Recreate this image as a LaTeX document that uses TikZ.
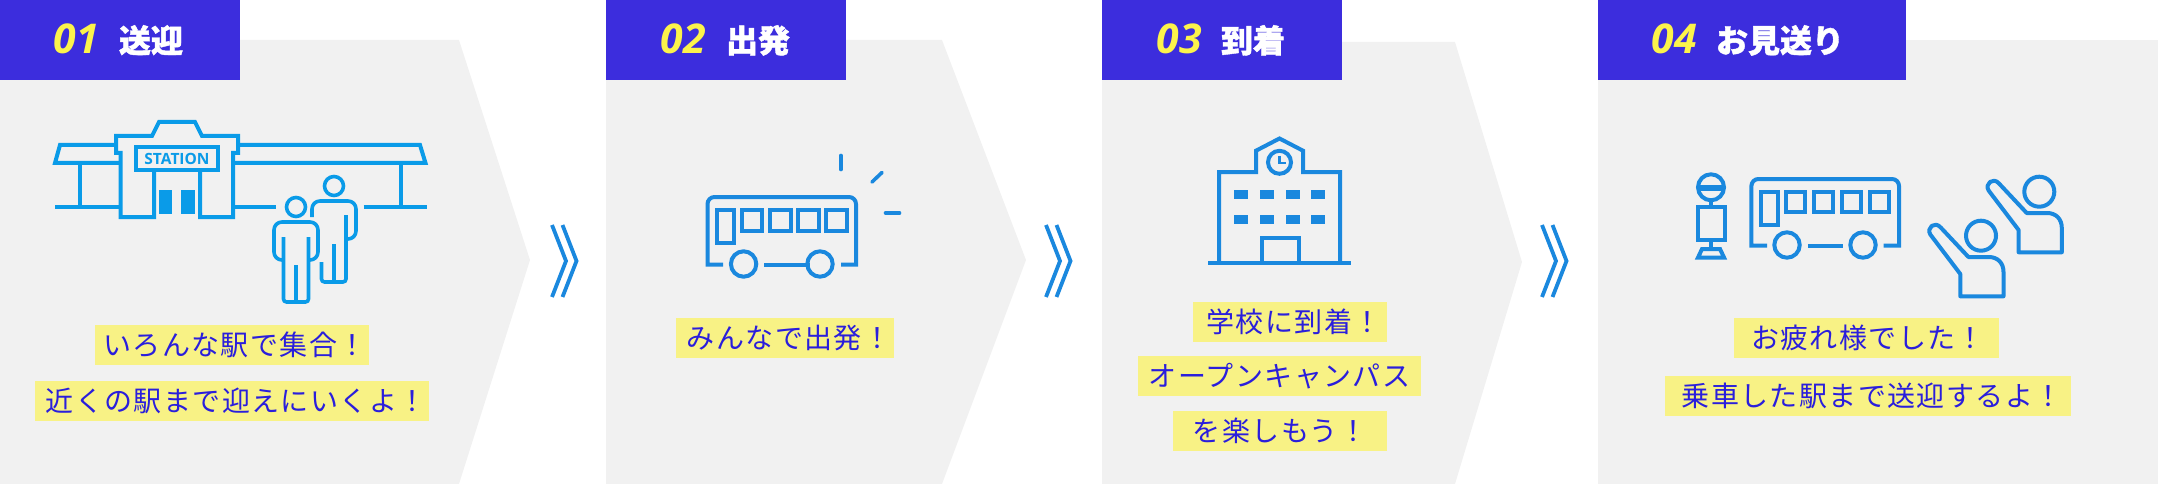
\documentclass[tikz,border=0pt]{standalone}
\usepackage{fontspec}
\setmainfont{Open Sans}
\newfontfamily\jpfont[LetterSpace=5]{Noto Sans CJK JP}
\newfontfamily\jpbold[BoldFeatures={FakeBold=1.2}]{Noto Sans CJK JP}
\definecolor{panelgray}{HTML}{F1F1F1}
\definecolor{headblue}{HTML}{3C2DDD}
\definecolor{numyellow}{HTML}{FCF34B}
\definecolor{labelyellow}{HTML}{F8F285}
\definecolor{labeltext}{HTML}{2A1EDC}
\definecolor{iconblue}{HTML}{1A88DE}
\definecolor{stationblue}{HTML}{0A9BE8}
\tikzset{
  panel/.style={fill=panelgray},
  headbox/.style={fill=headblue},
  numtext/.style={anchor=base,inner sep=0,text=numyellow,font=\fontsize{41}{41}\selectfont\bfseries\itshape},
  headtext/.style={anchor=base,inner sep=0,text=white,font=\fontsize{32}{32}\selectfont\jpbold\bfseries},
  label/.style={fill=labelyellow,inner sep=0,text=labeltext,minimum height=40pt,font=\fontsize{28}{28}\selectfont\jpfont},
  chev/.style={draw=iconblue,line width=3.8pt,miter limit=10},
  icon/.style={draw=iconblue,line width=4pt,miter limit=10},
  sicon/.style={draw=stationblue,line width=4pt,miter limit=10},
  pers/.style={draw=stationblue,line width=3.6pt},
  ray/.style={draw=iconblue,line width=3.6pt,line cap=round},
}
\newcommand{\dblchev}[1]{%
  \draw[chev] (552+#1,225) -- (566+#1,261) -- (552+#1,297);
  \draw[chev] (562.5+#1,225) -- (576.5+#1,261) -- (562.5+#1,297);
}
\newcommand{\waver}[2]{%
  \begin{scope}[shift={(#1,#2)}]
    \draw[icon] (2039.3,191.7) circle (15);
    \draw[icon,line join=round] (2018.6,252.3) -- (2018.6,230) -- (1988.6,190.5)
      .. controls (1984.5,184) and (1993,176.5) .. (1999,183.5)
      -- (2026.7,213) -- (2047,213) .. controls (2056,213) and (2061.8,219) .. (2061.8,228) -- (2061.8,252.3) -- cycle;
  \end{scope}
}
\begin{document}
\begin{tikzpicture}[x=1pt,y=-1pt]
\useasboundingbox (0,0) rectangle (2158,484);
% panels
\fill[panel] (0,40) -- (459,40) -- (530,260) -- (459,484) -- (0,484) -- cycle;
\fill[panel] (606,40) -- (942,40) -- (1026,260) -- (942,484) -- (606,484) -- cycle;
\fill[panel] (1102,42) -- (1455,42) -- (1522,262) -- (1455,484) -- (1102,484) -- cycle;
\fill[panel] (1598,40) -- (2158,40) -- (2158,484) -- (1598,484) -- cycle;
% header boxes
\fill[headbox] (0,0) rectangle (240,80);
\fill[headbox] (606,0) rectangle (846,80);
\fill[headbox] (1102,0) rectangle (1342,80);
\fill[headbox] (1598,0) rectangle (1906,80);
% header text
\node[numtext] (n1) at (76.5,54) {01};
\node[headtext] (h1) at (151,52.5) {送迎};
\node[numtext] (n2) at (683.5,54) {02};
\node[headtext] (h2) at (758,52.5) {出発};
\node[numtext] (n3) at (1179.5,54) {03};
\node[headtext] (h3) at (1253,52.5) {到着};
\node[numtext] (n4) at (1674,54) {04};
\node[headtext] (h4) at (1780,52.5) {お見送り};
% chevrons
\dblchev{0}
\dblchev{494}
\dblchev{990}
% labels
\node[label,minimum width=274pt] (l1a) at (232,345) {\hspace*{6pt}いろんな駅で集合！};
\node[label,minimum width=394pt] (l1b) at (232,401) {\hspace*{8pt}近くの駅まで迎えにいくよ！};
\node[label,minimum width=218pt] (l2) at (785,338) {\hspace*{8pt}みんなで出発！};
\node[label,minimum width=194pt] (l3a) at (1290,321.5) {\hspace*{8pt}学校に到着！};
\node[label,minimum width=283pt] (l3b) at (1279.5,376) {オープンキャンパス};
\node[label,minimum width=214pt] (l3c) at (1280,431) {を楽しもう！};
\node[label,minimum width=265pt] (l4a) at (1866.5,337.5) {\hspace*{3pt}お疲れ様でした！};
\node[label,minimum width=406pt] (l4b) at (1868,396) {\hspace*{8pt}乗車した駅まで送迎するよ！};
% station
\draw[sicon] (115,145) -- (60,145) -- (55,163) -- (119,163);
\draw[sicon] (239,145) -- (420,145) -- (425.5,163) -- (234,163);
\draw[sicon] (154,170) -- (154,217) -- (120.5,217) -- (120.5,153) -- (116,153) -- (116,136) -- (152,136) -- (159,122) -- (195,122) -- (202,136) -- (238,136) -- (238,153) -- (233,153) -- (233,217) -- (200,217) -- (200,170);
\draw[sicon] (136,147) rectangle (218,170);
\node[inner sep=0,text=stationblue,font=\fontsize{15.5}{15.5}\selectfont\bfseries] (stn) at (177,158.5) {STATION};
\fill[stationblue] (159,190) rectangle (172,214);
\fill[stationblue] (181,190) rectangle (195,214);
\draw[sicon] (55,207) -- (120,207);
\draw[sicon] (233,207) -- (275.5,207);
\draw[sicon] (363.5,207) -- (427,207);
\draw[sicon] (80,163) -- (80,207);
\draw[sicon] (401,163) -- (401,207);
% persons
\draw[pers] (296,207) circle (9.5);
\draw[pers,rounded corners=8pt] (283.5,260) -- (274,260) -- (274,222) -- (318,222) -- (318,260) -- (308.5,260);
\draw[pers,rounded corners=3pt] (283.5,237) -- (283.5,302) -- (308.5,302) -- (308.5,237);
\draw[pers] (296,265) -- (296,302);
\draw[pers] (334,186) circle (9.5);
\draw[pers,rounded corners=8pt] (312,217) -- (312,201) -- (356,201) -- (356,239) -- (346,239);
\draw[pers,rounded corners=3pt] (321.5,262) -- (321.5,282) -- (346,282) -- (346,215);
\draw[pers] (334,244) -- (334,282);
% bus 2
\draw[icon,rounded corners=0pt] (723,264.5) -- (707.5,264.5) [rounded corners=7pt] -- (707.5,197) -- (856,197) [rounded corners=0pt] -- (856,264.5) -- (841,264.5);
\draw[icon] (717,210) rectangle (734,243);
\draw[icon] (742,210) rectangle (762,231);
\draw[icon] (770,210) rectangle (791,231);
\draw[icon] (798,210) rectangle (818.6,231);
\draw[icon] (826,210) rectangle (847,231);
\draw[icon] (743.6,264) circle (12.7);
\draw[icon] (820,264) circle (12.7);
\draw[icon] (764,264.5) -- (810,264.5);
\draw[ray] (841,155.5) -- (841,169.5);
\draw[ray] (882,172.5) -- (872,182);
\draw[ray] (885.5,213) -- (899.5,213);
% school
\draw[icon,line width=4.4pt] (1208,262.7) -- (1351,262.7);
\draw[icon] (1219,262.7) -- (1219,172) -- (1256,172) -- (1256,150.7) -- (1279.5,138.5) -- (1303,150.7) -- (1303,172) -- (1340,172) -- (1340,262.7);
\draw[icon] (1279.5,162.3) circle (11.5);
\draw[icon,line width=2.8pt] (1279.5,156) -- (1279.5,163) -- (1286,163);
\foreach \wy in {190,214.7}{
  \foreach \wx in {1234,1259.7,1285.7,1311.3}{
    \fill[iconblue] (\wx,\wy) rectangle (\wx+14,\wy+9.3);
  }
}
\draw[icon] (1261.7,262.7) -- (1261.7,237.7) -- (1298.7,237.7) -- (1298.7,262.7);
% bus stop
\draw[icon] (1711,187.3) circle (13);
\draw[icon,line width=5.5pt] (1698,188) -- (1724,188);
\draw[icon] (1711,200) -- (1711,207);
\draw[icon] (1698,207) rectangle (1724.5,240);
\draw[icon] (1711,240) -- (1711,249);
\draw[icon] (1702,249) -- (1720,249) -- (1724,257.5) -- (1698,257.5) -- cycle;
% bus 4
\draw[icon,rounded corners=0pt] (1767,245.7) -- (1751.4,245.7) [rounded corners=7pt] -- (1751.4,179) -- (1899,179) [rounded corners=0pt] -- (1899,245.7) -- (1883.7,245.7);
\draw[icon] (1761.3,191.7) rectangle (1777.6,225);
\draw[icon] (1785.7,191.7) rectangle (1804.8,211.7);
\draw[icon] (1813.7,191.7) rectangle (1832.9,211.7);
\draw[icon] (1841.7,191.7) rectangle (1860.9,211.7);
\draw[icon] (1869.7,191.7) rectangle (1888.9,211.7);
\draw[icon] (1787,245) circle (12.7);
\draw[icon] (1863,245) circle (12.7);
\draw[icon] (1807.8,245.5) -- (1842.8,245.5);
% waving people
\waver{0}{0}
\waver{-58.3}{44}
\end{tikzpicture}
\end{document}
